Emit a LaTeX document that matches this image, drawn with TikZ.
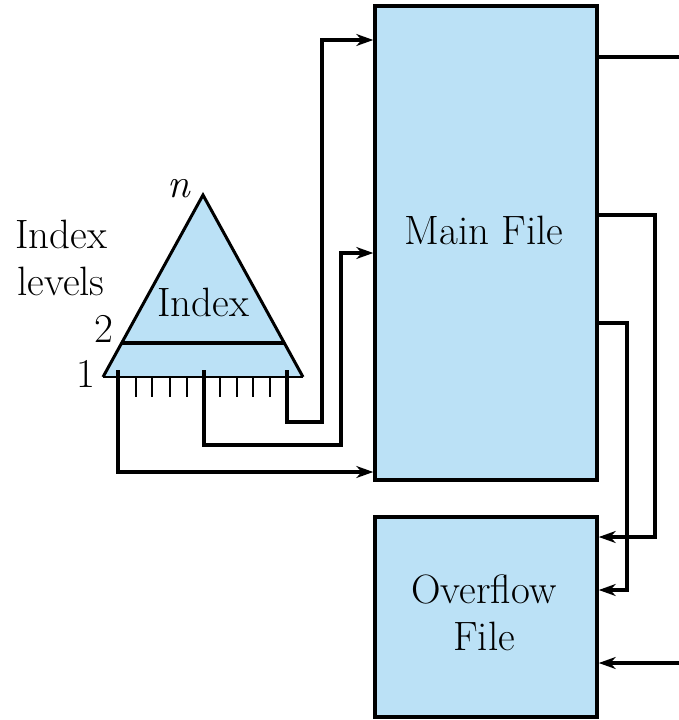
\documentclass[tikz,border=0pt]{standalone}
\usetikzlibrary{arrows.meta}
\definecolor{fileblue}{RGB}{187,225,246}
\begin{document}
\begin{tikzpicture}[x=1pt,y=-1pt,
  conn/.style={line width=3.5pt},
  arr/.style={conn,-{Stealth[length=17pt,width=12pt]}},
  tick/.style={line width=2.2pt},
  filebox/.style={draw,line width=3.5pt,fill=fileblue,inner sep=0pt},
  lbl/.style={font=\fontsize{41}{47}\selectfont,inner sep=0pt,align=center}]
\useasboundingbox (0,0) rectangle (679,720);
% boxes
\node[filebox,minimum width=222pt,minimum height=474pt] (main) at (486,243) {};
\node[filebox,minimum width=222pt,minimum height=200pt] (ovf) at (486,617) {};
\node[lbl] (maint) at (484,230) {Main File};
\node[lbl] (ovft) at (484,613) {Overflow\\File};
% index triangle
\coordinate (tl) at (103,377);
\coordinate (ta) at (203,195);
\coordinate (tr) at (303,377);
\fill[fileblue] (tl) -- (ta) -- (tr) -- cycle;
\draw[line width=3pt,line join=miter] (tl) -- (ta) -- (tr);
\draw[line width=2pt] (tl) -- (tr);
\draw[conn] (122,343) -- (284,343);
\node[lbl] (idx) at (203,302) {Index};
\node[lbl] (lev) at (61,258) {Index\\levels};
\node[lbl,font=\fontsize{41}{47}\selectfont\itshape] (nn) at (179,189) {n};
\node[lbl] (two) at (104,329) {2};
\node[lbl] (one) at (86,374) {1};
% ticks
\foreach \x in {136,152,170,187,220,237,253,270}
  \draw[tick] (\x,377) -- (\x,397);
% index pointers
\coordinate (p1) at (118,370);
\coordinate (p2) at (204,370);
\coordinate (p3) at (287,370);
\draw[arr] (p3) -- (287,422) -- (322,422) -- (322,40) -- (main.west |- 0,40);
\draw[arr] (p2) -- (204,445) -- (341,445) -- (341,253) -- (main.west |- 0,253);
\draw[arr] (p1) -- (118,472) -- (main.west |- 0,472);
% right side
\coordinate (out1) at (679,57);
\coordinate (in1) at (679,663);
\draw[conn] (main.east |- out1) -- (out1);
\draw[arr] (main.east |- 0,215) -- (655,215) -- (655,537) -- (ovf.east |- 0,537);
\draw[arr] (main.east |- 0,323) -- (627,323) -- (627,590) -- (ovf.east |- 0,590);
\draw[arr] (in1) -- (ovf.east |- in1);
\end{tikzpicture}
\end{document}
